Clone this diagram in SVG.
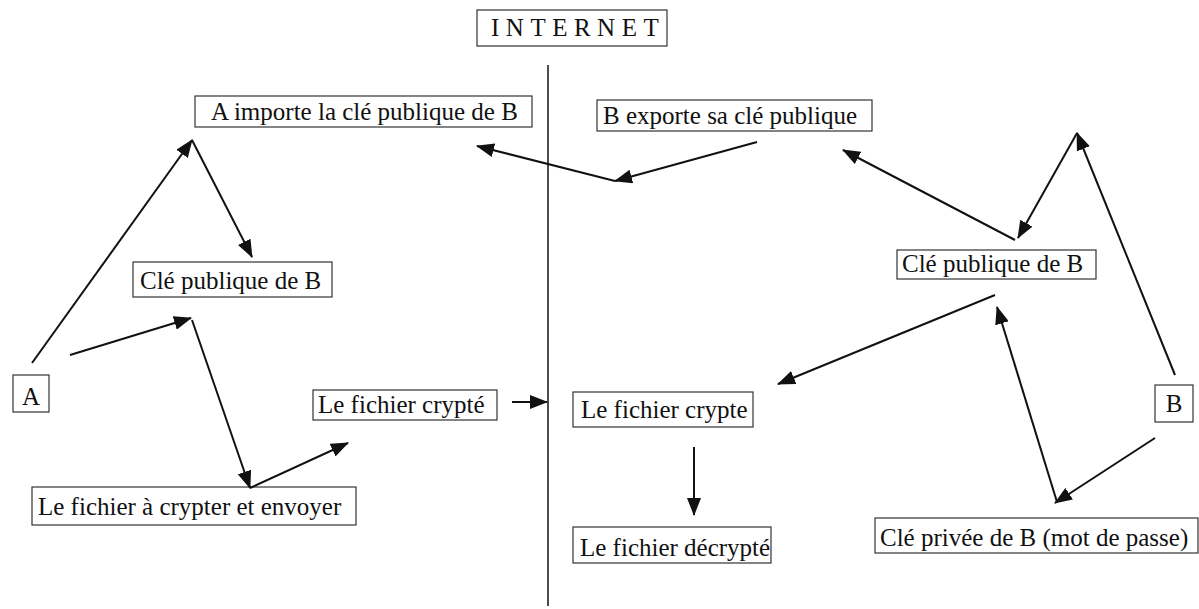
<svg xmlns="http://www.w3.org/2000/svg" width="1199" height="609" viewBox="0 0 1199 609">
  <style>
    .box { fill: #ffffff; stroke: #333333; stroke-width: 1.2; }
    .lbl { font-family: "Liberation Serif", "Times New Roman", serif; font-size: 25px; fill: #111111; }
    .wire { fill: none; stroke: #111111; stroke-width: 2; }
    .wire-end { marker-end: url(#head); }
  </style>
  <defs>
    <marker id="head" viewBox="0 0 18 14" refX="17" refY="7" markerWidth="18" markerHeight="14" markerUnits="userSpaceOnUse" orient="auto">
      <path d="M0,0 L18,7 L0,14 Z" fill="#111111"/>
    </marker>
  </defs>

  <rect width="1199" height="609" fill="#ffffff"/>

  <!-- title and the divider between the two sides -->
  <g id="internet">
    <rect class="box" x="477" y="10" width="190" height="36"/>
    <text class="lbl" x="491" y="36" letter-spacing="6.5">INTERNET</text>
  </g>
  <line id="divider" x1="548" y1="65" x2="548" y2="606" stroke="#111111" stroke-width="1.5"/>

  <!-- left side: A -->
  <g id="a-importe">
    <rect class="box" x="195" y="96" width="337" height="31"/>
    <text class="lbl" x="211" y="120">A importe la clé publique de B</text>
  </g>
  <g id="cle-publique-a">
    <rect class="box" x="133" y="262" width="199" height="35"/>
    <text class="lbl" x="140" y="289">Clé publique de B</text>
  </g>
  <g id="a">
    <rect class="box" x="13" y="375" width="36" height="37"/>
    <text class="lbl" x="31" y="405" text-anchor="middle">A</text>
  </g>
  <g id="fichier-a-crypter">
    <rect class="box" x="32" y="487" width="324" height="38"/>
    <text class="lbl" x="38" y="515">Le fichier à crypter et envoyer</text>
  </g>
  <g id="fichier-crypte-a">
    <rect class="box" x="313" y="390" width="184" height="30"/>
    <text class="lbl" x="318" y="413">Le fichier crypté</text>
  </g>

  <!-- right side: B -->
  <g id="b-exporte">
    <rect class="box" x="597" y="100" width="275" height="31"/>
    <text class="lbl" x="603" y="124">B exporte sa clé publique</text>
  </g>
  <g id="fichier-crypte-b">
    <rect class="box" x="573" y="392" width="180" height="35"/>
    <text class="lbl" x="581" y="418">Le fichier crypte</text>
  </g>
  <g id="fichier-decrypte">
    <rect class="box" x="573" y="527" width="198" height="36"/>
    <text class="lbl" x="580" y="556">Le fichier décrypté</text>
  </g>
  <g id="cle-publique-b">
    <rect class="box" x="897" y="250" width="199" height="29"/>
    <text class="lbl" x="902" y="272">Clé publique de B</text>
  </g>
  <g id="b">
    <rect class="box" x="1155" y="385" width="38" height="37"/>
    <text class="lbl" x="1174" y="412" text-anchor="middle">B</text>
  </g>
  <g id="cle-privee">
    <rect class="box" x="875" y="518" width="323" height="35"/>
    <text class="lbl" x="880" y="546">Clé privée de B (mot de passe)</text>
  </g>

  <!-- connectors -->
  <g id="connectors">
    <line class="wire wire-end" x1="32" y1="363" x2="192" y2="140"/>
    <line class="wire wire-end" x1="192" y1="140" x2="252" y2="257"/>
    <line class="wire wire-end" x1="70" y1="355" x2="191" y2="318"/>
    <line class="wire wire-end" x1="192" y1="320" x2="250" y2="488"/>
    <line class="wire wire-end" x1="250" y1="488" x2="348" y2="443"/>
    <line class="wire wire-end" x1="512" y1="402" x2="547" y2="402"/>
    <line class="wire wire-end" x1="694" y1="447" x2="694" y2="515"/>
    <line class="wire wire-end" x1="757" y1="142" x2="615" y2="181"/>
    <line class="wire wire-end" x1="615" y1="181" x2="477" y2="146"/>
    <line class="wire wire-end" x1="1015" y1="240" x2="843" y2="150"/>
    <line class="wire wire-end" x1="1175" y1="375" x2="1077" y2="133"/>
    <line class="wire wire-end" x1="1077" y1="133" x2="1018" y2="238"/>
    <line class="wire wire-end" x1="995" y1="295" x2="778" y2="384"/>
    <line class="wire wire-end" x1="1057" y1="502" x2="997" y2="307"/>
    <line class="wire wire-end" x1="1155" y1="438" x2="1055" y2="503"/>
  </g>
</svg>
